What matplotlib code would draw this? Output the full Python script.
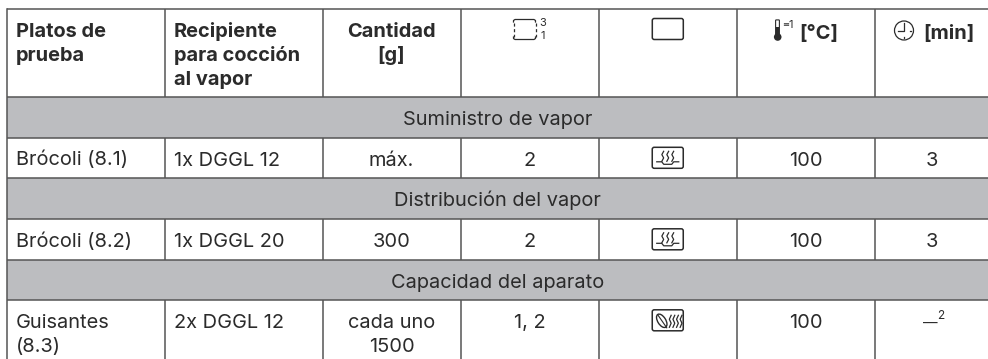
import matplotlib
matplotlib.use('Agg')
from matplotlib import pyplot as plt
from matplotlib.patches import FancyBboxPatch, Rectangle, Circle, Ellipse

plt.rcParams['font.family'] = ['Inter', 'DejaVu Sans']

headers = ['Platos de\nprueba', 'Recipiente\npara cocción\nal vapor', 'Cantidad\n[g]']
unit_temp = '[°C]'
unit_time = '[min]'
sections = ['Suministro de vapor', 'Distribución del vapor', 'Capacidad del aparato']
platos = ['Brócoli (8.1)', 'Brócoli (8.2)', 'Guisantes\n(8.3)']
recipientes = ['1x DGGL 12', '1x DGGL 20', '2x DGGL 12']
cantidades = ['máx.', '300', 'cada uno\n1500']
niveles = ['2', '2', '1, 2']
temperaturas = ['100', '100', '100']
tiempos = ['3', '3', '—']
notas = ['', '', '2']
modos = ['vapor', 'vapor', 'hoja']

col_x = [7, 165, 322.5, 460.5, 598.5, 737, 875, 988]
row_y = [9, 97, 137.5, 178, 219, 259.5, 300, 359]

ink = '#2b2b2b'
line = '#555555'
grey = '#bcbdc0'
fs = 14.4
step = 24

fig = plt.figure(figsize=(9.88, 3.59), dpi=100)
ax = fig.add_axes([0, 0, 1, 1])
ax.set_xlim(0, 988)
ax.set_ylim(359, 0)
ax.axis('off')


def center(i):
    return (col_x[i] + col_x[i + 1]) / 2


def write(x, y, s, ha='left', weight='normal'):
    # every line goes on its own baseline
    for k, part in enumerate(s.split('\n')):
        ax.text(x, y + k * step, part, fontsize=fs, fontweight=weight, color=ink, ha=ha, va='baseline')


def box(x, y, w, h, lw=1.1):
    ax.add_patch(FancyBboxPatch((x + 2, y + 2), w - 4, h - 4, boxstyle='round,pad=2', fc='none', ec=ink, lw=lw))


def steam(x, y, n=3, gap=5.0, h=10):
    for k in range(n):
        xs = x + k * gap
        ax.plot([xs + 0.9, xs - 0.9, xs + 0.9, xs - 0.9], [y, y + h * 0.33, y + h * 0.66, y + h], color=ink, lw=0.9)


def icon_mode(cx, y, kind):
    box(cx - 15.5, y, 31, 21)
    if kind == 'vapor':
        steam(cx - 5, y + 4)
        ax.plot([cx - 11, cx - 6, cx - 4, cx + 4, cx + 6, cx + 11], [y + 14.5, y + 14.5, y + 17, y + 17, y + 14.5, y + 14.5], color=ink, lw=0.9)
    else:
        steam(cx + 2.5, y + 5.5, n=4, gap=3.6, h=12)
        ax.add_patch(Ellipse((cx - 6, y + 11), 8, 15, angle=-32, fc='none', ec=ink, lw=1.0))
        ax.plot([cx - 10, cx - 1], [y + 5, y + 18], color=ink, lw=0.8)


# section bands
for r in [1, 3, 5]:
    ax.add_patch(Rectangle((col_x[0], row_y[r]), 988 - col_x[0], row_y[r + 1] - row_y[r], fc=grey, ec='none'))

# grid lines
for y in row_y[:-1]:
    ax.plot([col_x[0], 988], [y, y], color=line, lw=1.1, solid_capstyle='butt')
ax.plot([col_x[0], col_x[0]], [row_y[0], 359], color=line, lw=1.1)
for r in [0, 2, 4, 6]:
    for x in col_x[1:-1]:
        ax.plot([x, x], [row_y[r], row_y[r + 1]], color=line, lw=1.1, solid_capstyle='butt')

# header text
write(16, 37, headers[0], weight='bold')
write(174, 37, headers[1], weight='bold')
write(center(2), 37, headers[2], ha='center', weight='bold')

# shelf icon, solid top and bottom, dashed sides
ax.plot([513.5, 513.5, 515, 534, 535.5, 535.5], [22, 20.5, 19.5, 19.5, 20.5, 22], color=ink, lw=0.9)
ax.plot([513.5, 513.5, 515, 534, 535.5, 535.5], [37, 38.5, 39.5, 39.5, 38.5, 37], color=ink, lw=0.9)
ax.plot([513.5, 513.5], [23, 37], color=ink, lw=0.9, linestyle=(0, (2.5, 2)))
ax.plot([535.5, 535.5], [23, 37], color=ink, lw=0.9, linestyle=(0, (2.5, 2)))
ax.text(543, 23.5, '3', fontsize=8, color=ink, ha='center', va='center')
ax.text(543, 36, '1', fontsize=8, color=ink, ha='center', va='center')

# oven mode icon
box(652.3, 18.5, 31, 21)

# thermometer icon + unit
ax.add_patch(FancyBboxPatch((776.2, 20.5), 2.6, 14, boxstyle='round,pad=0.6', fc='white', ec=ink, lw=0.8))
ax.add_patch(Circle((777.7, 37), 3.8, fc=ink, ec='none'))
ax.add_patch(Rectangle((776.3, 27), 2.8, 8, fc=ink, ec='none'))
ax.text(786, 24.5, '≡', fontsize=6, color=ink, ha='center', va='center')
ax.text(790.7, 24.5, '1', fontsize=8, color=ink, ha='center', va='center')
ax.text(799, 38.5, unit_temp, fontsize=fs, fontweight='bold', color=ink, va='baseline')

# clock icon + unit
ax.add_patch(Circle((904, 30.5), 9.5, fc='none', ec=ink, lw=0.9))
ax.plot([904, 904, 898], [23, 31, 31], color=ink, lw=0.9)
ax.plot([904, 904], [37, 38], color=ink, lw=0.9)
ax.plot([910, 911], [30.5, 30.5], color=ink, lw=0.9)
ax.text(923, 38.5, unit_time, fontsize=fs, fontweight='bold', color=ink, va='baseline')

# section titles
for r, s in zip([1, 3, 5], sections):
    write(497.5, row_y[r] + 28, s, ha='center')

# body rows
for i, r in enumerate([2, 4, 6]):
    y = row_y[r] + 28
    write(16, y, platos[i])
    write(174, y, recipientes[i])
    write(center(2), y, cantidades[i], ha='center')
    write(center(3), y, niveles[i], ha='center')
    icon_mode(center(4), row_y[r] + 9.8, modos[i])
    write(center(5), y, temperaturas[i], ha='center')
    if notas[i]:
        # short dash with the footnote number next to it
        ax.text(930, y - 0.5, tiempos[i], fontsize=10.5, color=ink, ha='center', va='baseline')
        ax.text(940.5, y - 12, notas[i], fontsize=8.5, color=ink, ha='center', va='center')
    else:
        write(center(6), y, tiempos[i], ha='center')

fig.savefig('out.png', dpi=100)
